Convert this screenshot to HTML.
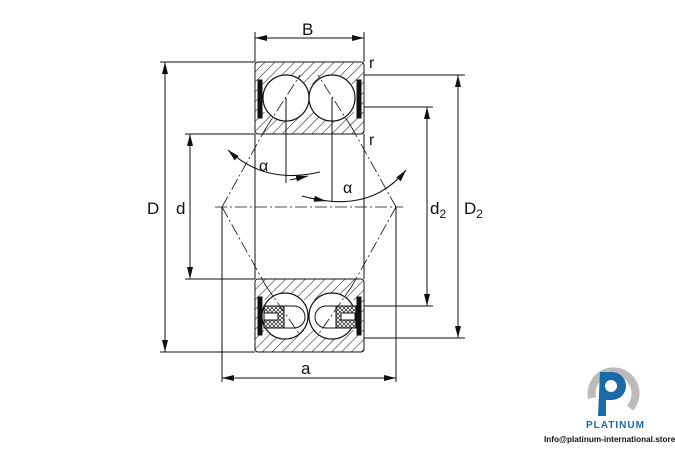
<!DOCTYPE html>
<html><head><meta charset="utf-8"><style>
body{margin:0;background:#fff;width:675px;height:450px;overflow:hidden}
svg{display:block}
text{font-family:"Liberation Sans",sans-serif;fill:#111}
</style></head><body>
<svg width="675" height="450" viewBox="0 0 675 450">
<defs>
<pattern id="h" width="7" height="7" patternUnits="userSpaceOnUse" patternTransform="rotate(45)">
<rect width="7" height="7" fill="#fff"/><line x1="0" y1="0" x2="0" y2="7" stroke="#222" stroke-width="1.1"/></pattern>
<pattern id="x" width="4" height="4" patternUnits="userSpaceOnUse"><rect width="4" height="4" fill="#fff"/><path d="M0 0L4 4M4 0L0 4" stroke="#222" stroke-width="0.7"/></pattern>
<marker id="a" markerWidth="12" markerHeight="6" refX="12" refY="3" orient="auto" markerUnits="userSpaceOnUse"><path d="M0 0L12 3L0 6z" fill="#111"/></marker>
<marker id="as" markerWidth="12" markerHeight="6" refX="0" refY="3" orient="auto" markerUnits="userSpaceOnUse"><path d="M12 0L0 3L12 6z" fill="#111"/></marker>
</defs>
<g stroke="#111" stroke-width="1" fill="none">
<rect x="255" y="62" width="109" height="72" rx="3" fill="url(#h)"/>
<rect x="255" y="279" width="109" height="73" rx="3" fill="url(#h)"/>
<rect x="262" y="84" width="95" height="28" fill="#fff" stroke="none"/>
<rect x="262" y="300" width="95" height="30" fill="#fff" stroke="none"/>
<circle cx="286" cy="98" r="23" fill="#fff" stroke-width="1.2"/>
<circle cx="332" cy="98" r="23" fill="#fff" stroke-width="1.2"/>
<circle cx="285" cy="316" r="23" fill="#fff" stroke-width="1.2"/>
<circle cx="332" cy="316" r="23" fill="#fff" stroke-width="1.2"/>
<rect x="258" y="80" width="4" height="38" fill="#111"/>
<rect x="357" y="80" width="4" height="38" fill="#111"/>
<rect x="258" y="297" width="4" height="38" fill="#111"/>
<rect x="357" y="297" width="4" height="38" fill="#111"/>
<path d="M264 306h20v22h-20z" fill="url(#x)"/>
<path d="M336 306h20v22h-20z" fill="url(#x)"/>
<rect x="264" y="313" width="14" height="7" fill="#fff"/>
<rect x="341" y="313" width="14" height="7" fill="#fff"/>
<path d="M284 306h10a10 10 0 0 1 0 22h-10z" fill="#fff"/>
<path d="M336 306h-10a10 10 0 0 0 0 22h10z" fill="#fff"/>
<line x1="255" y1="134" x2="255" y2="279"/>
<line x1="364" y1="134" x2="364" y2="279"/>
<line x1="286" y1="98" x2="286" y2="183"/>
<line x1="332" y1="98" x2="332" y2="202"/>
<line x1="160" y1="62" x2="255" y2="62"/>
<line x1="160" y1="352" x2="255" y2="352"/>
<line x1="185" y1="134" x2="255" y2="134"/>
<line x1="185" y1="279" x2="255" y2="279"/>
<line x1="364" y1="75" x2="465" y2="75"/>
<line x1="364" y1="338" x2="465" y2="338"/>
<line x1="364" y1="107" x2="433" y2="107"/>
<line x1="364" y1="306" x2="433" y2="306"/>
<line x1="255" y1="32" x2="255" y2="62"/>
<line x1="364" y1="32" x2="364" y2="62"/>
<line x1="222" y1="207" x2="222" y2="382"/>
<line x1="396" y1="207" x2="396" y2="382"/>
<line x1="255" y1="38" x2="364" y2="38" marker-start="url(#as)" marker-end="url(#a)"/>
<line x1="165" y1="62" x2="165" y2="352" marker-start="url(#as)" marker-end="url(#a)"/>
<line x1="190" y1="134" x2="190" y2="279" marker-start="url(#as)" marker-end="url(#a)"/>
<line x1="427" y1="107" x2="427" y2="306" marker-start="url(#as)" marker-end="url(#a)"/>
<line x1="458" y1="75" x2="458" y2="338" marker-start="url(#as)" marker-end="url(#a)"/>
<line x1="222" y1="378" x2="396" y2="378" marker-start="url(#as)" marker-end="url(#a)"/>
<g stroke-dasharray="12 3 2 3" stroke-width="0.8">
<line x1="215" y1="207" x2="403" y2="207"/>
<line x1="222" y1="207" x2="266" y2="128"/>
<line x1="222" y1="207" x2="266" y2="286"/>
<line x1="396" y1="207" x2="352" y2="128"/>
<line x1="396" y1="207" x2="352" y2="286"/>
<line x1="266" y1="128" x2="300" y2="75"/>
<line x1="352" y1="128" x2="318" y2="75"/>
<line x1="266" y1="286" x2="300" y2="335"/>
<line x1="352" y1="286" x2="318" y2="335"/>
</g>
<path d="M228 150Q265 185 320 172" marker-start="url(#as)" stroke-width="1.1"/>
<line x1="290" y1="180" x2="308" y2="176" marker-end="url(#a)"/>
<path d="M302 196Q370 215 406 170" marker-end="url(#a)" stroke-width="1.1"/>
<line x1="310" y1="198" x2="326" y2="201" marker-end="url(#a)"/>
</g>
<g font-size="17">
<text x="302" y="35">B</text>
<text x="147" y="214">D</text>
<text x="176" y="214">d</text>
<text x="430" y="214">d<tspan font-size="12" dy="4">2</tspan></text>
<text x="464" y="214">D<tspan font-size="12" dy="4">2</tspan></text>
<text x="301" y="374">a</text>
<text x="369" y="68" font-size="16">r</text>
<text x="369" y="145" font-size="16">r</text>
<text x="259" y="171" font-size="16">α</text>
<text x="343" y="193" font-size="16">α</text>
</g>
<g>
<path d="M592 398a22 22 0 1 1 38 10" fill="none" stroke="#bbb" stroke-width="8"/>
<path d="M600 372h12a14 14 0 0 1 0 28h-6v16h-8z" fill="#1a6aa8"/>
<circle cx="611" cy="386" r="6" fill="#fff"/>
<text x="586" y="428" font-size="10" font-weight="bold" style="fill:#1a6aa8;letter-spacing:1px">PLATINUM</text>
<text x="544" y="442" font-size="8.2" font-weight="bold">Info@platinum-international.store</text>
</g>
</svg>
</body></html>
